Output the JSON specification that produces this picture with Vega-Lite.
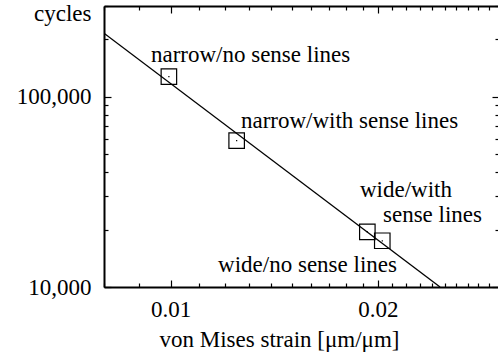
{
  "$schema": "https://vega.github.io/schema/vega-lite/v6.json",
  "autosize": "none",
  "width": 395,
  "height": 281,
  "padding": {"left": 104, "top": 6, "right": 0, "bottom": 71},
  "background": "white",
  "config": {
    "view": {"stroke": null},
    "font": "Liberation Serif",
    "axis": {
      "grid": false,
      "domainColor": "black",
      "domainWidth": 2,
      "tickColor": "black",
      "tickWidth": 1.2,
      "labelColor": "black",
      "labelFont": "Liberation Serif",
      "labelFontSize": 23,
      "labelOverlap": false,
      "labelFlush": false,
      "titleColor": "black",
      "titleFont": "Liberation Serif",
      "titleFontSize": 23,
      "titleFontWeight": "normal"
    }
  },
  "datasets": {
    "fit": [
      {"strain": 0.008, "cycles": 215800},
      {"strain": 0.02463, "cycles": 10000}
    ],
    "specimens": [
      {"specimen": "narrow/no sense lines", "strain": 0.00994, "cycles": 127500},
      {"specimen": "narrow/with sense lines", "strain": 0.01247, "cycles": 58800},
      {"specimen": "wide/with sense lines", "strain": 0.01931, "cycles": 19500},
      {"specimen": "wide/no sense lines", "strain": 0.0203, "cycles": 17500}
    ],
    "labels": [
      {"text": "narrow/no sense lines", "strain": 0.00936, "cycles": 152400},
      {"text": "narrow/with sense lines", "strain": 0.01265, "cycles": 68550},
      {"text": "wide/with", "strain": 0.01884, "cycles": 29730},
      {"text": "sense lines", "strain": 0.02035, "cycles": 21970},
      {"text": "wide/no sense lines", "strain": 0.01172, "cycles": 12035}
    ]
  },
  "resolve": {"axis": {"x": "independent", "y": "independent"}},
  "layer": [
    {
      "data": {"name": "fit"},
      "mark": {"type": "line", "color": "black", "strokeWidth": 1.3, "clip": true},
      "encoding": {
        "x": {
          "field": "strain",
          "type": "quantitative",
          "scale": {"type": "log", "domain": [0.008, 0.03], "nice": false},
          "axis": {
            "orient": "bottom",
            "title": "von Mises strain [μm/μm]",
            "titleX": 175,
            "titleY": 59,
            "titleAlign": "center",
            "titleBaseline": "alphabetic",
            "values": [0.008, 0.009, 0.01, 0.011, 0.012, 0.013, 0.014, 0.015, 0.016, 0.017, 0.018, 0.019, 0.02, 0.021, 0.022, 0.023, 0.024, 0.025, 0.026, 0.027, 0.028, 0.029, 0.03],
            "labelExpr": "datum.value == 0.01 ? '0.01' : datum.value == 0.02 ? '0.02' : ''",
            "tickSize": {"condition": {"test": "datum.value == 0.01 || datum.value == 0.02", "value": -7}, "value": -4},
            "labelPadding": 18
          }
        },
        "y": {
          "field": "cycles",
          "type": "quantitative",
          "scale": {"type": "log", "domain": [10000, 300000], "nice": false},
          "axis": {
            "orient": "left",
            "title": "cycles",
            "titleAngle": 0,
            "titleAlign": "right",
            "titleBaseline": "alphabetic",
            "titleX": -13,
            "titleY": 14,
            "values": [10000, 20000, 30000, 40000, 50000, 60000, 70000, 80000, 90000, 100000, 200000, 300000],
            "labelExpr": "datum.value == 100000 ? '100,000' : datum.value == 10000 ? '10,000' : ''",
            "tickSize": {"condition": {"test": "datum.value == 10000 || datum.value == 100000", "value": -7}, "value": -4},
            "labelPadding": 20
          }
        }
      }
    },
    {
      "data": {"name": "specimens"},
      "mark": {"type": "point", "shape": "square", "filled": false, "size": 240, "stroke": "black", "strokeWidth": 1.2, "opacity": 1},
      "encoding": {
        "x": {
          "field": "strain",
          "type": "quantitative",
          "scale": {"type": "log", "domain": [0.008, 0.03], "nice": false},
          "axis": {
            "orient": "top",
            "title": null,
            "labels": false,
            "values": [0.008, 0.009, 0.01, 0.011, 0.012, 0.013, 0.014, 0.015, 0.016, 0.017, 0.018, 0.019, 0.02, 0.021, 0.022, 0.023, 0.024, 0.025, 0.026, 0.027, 0.028, 0.029, 0.03],
            "tickSize": {"condition": {"test": "datum.value == 0.01 || datum.value == 0.02", "value": -7}, "value": -4}
          }
        },
        "y": {
          "field": "cycles",
          "type": "quantitative",
          "scale": {"type": "log", "domain": [10000, 300000], "nice": false},
          "axis": {
            "orient": "right",
            "title": null,
            "labels": false,
            "values": [10000, 20000, 30000, 40000, 50000, 60000, 70000, 80000, 90000, 100000, 200000, 300000],
            "tickSize": {"condition": {"test": "datum.value == 10000 || datum.value == 100000", "value": -7}, "value": -4}
          }
        }
      }
    },
    {
      "data": {"name": "specimens"},
      "mark": {"type": "point", "shape": "square", "filled": true, "size": 1.5, "color": "black", "opacity": 1},
      "encoding": {
        "x": {"field": "strain", "type": "quantitative", "axis": null},
        "y": {"field": "cycles", "type": "quantitative", "axis": null}
      }
    },
    {
      "data": {"name": "labels"},
      "mark": {"type": "text", "align": "left", "baseline": "alphabetic", "font": "Liberation Serif", "fontSize": 23, "color": "black"},
      "encoding": {
        "x": {"field": "strain", "type": "quantitative", "axis": null},
        "y": {"field": "cycles", "type": "quantitative", "axis": null},
        "text": {"field": "text"}
      }
    }
  ]
}
